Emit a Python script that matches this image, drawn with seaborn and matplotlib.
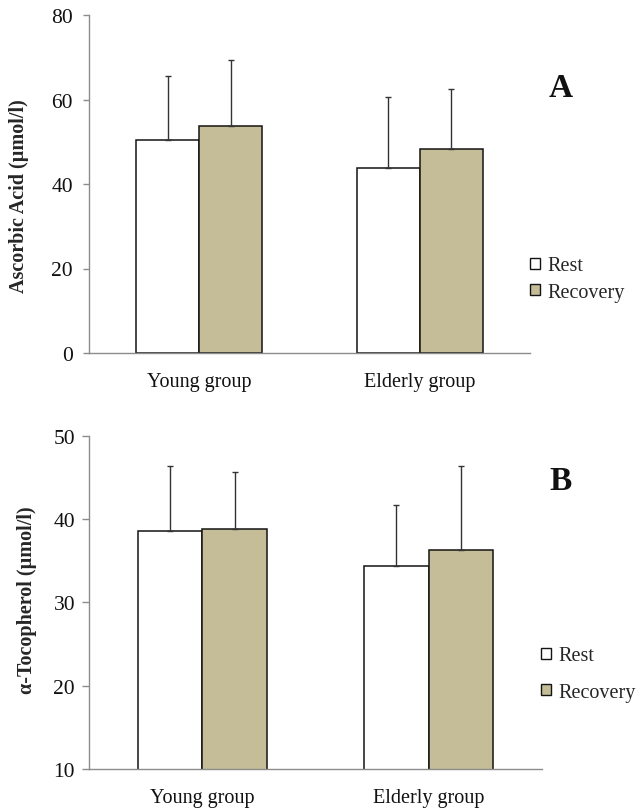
import matplotlib
matplotlib.use("Agg")
import matplotlib.pyplot as plt
from matplotlib.patches import Patch
import seaborn as sns
import pandas as pd

groups = ["Young group", "Elderly group"]
conditions = ["Rest", "Recovery"]

ascorbic_mean = {"Rest": [50.5, 43.8], "Recovery": [53.7, 48.4]}
ascorbic_sd = {"Rest": [15.1, 16.8], "Recovery": [15.6, 14.1]}

tocopherol_mean = {"Rest": [38.6, 34.4], "Recovery": [38.8, 36.3]}
tocopherol_sd = {"Rest": [7.8, 7.3], "Recovery": [6.9, 10.1]}

ascorbic_ticks = [0, 20, 40, 60, 80]
tocopherol_ticks = [10, 20, 30, 40, 50]

colors = {"Rest": "#FFFFFF", "Recovery": "#C4BD97"}
axis_grey = "#8C8C8C"

sns.set_theme(style="white")
plt.rcParams["font.family"] = ["Liberation Serif", "DejaVu Serif"]


def frame(mean, sd):
    rows = []
    for c in conditions:
        for g, m, s in zip(groups, mean[c], sd[c]):
            rows.append({"group": g, "condition": c, "value": m, "sd": s})
    return pd.DataFrame(rows)


def panel(fig, rect, mean, sd, ticks, ylabel, letter, letter_xy, leg_anchor,
          leg_spacing, label_xy, ticklen, tickpad):
    ax = fig.add_axes(rect)
    df = frame(mean, sd)
    sns.barplot(data=df, x="group", y="value", hue="condition",
                order=groups, hue_order=conditions, palette=colors,
                saturation=1, width=2 / 3.5, gap=0, errorbar=None,
                edgecolor="#141414", linewidth=1.1, ax=ax, legend=False)
    # upward-only SD whiskers drawn at each bar's centre
    for patch, (_, row) in zip(ax.patches, df.iterrows()):
        cx = patch.get_x() + patch.get_width() / 2
        top = patch.get_y() + patch.get_height()
        ax.errorbar(cx, top, yerr=[[0], [row["sd"]]], fmt="none",
                    ecolor="#333333", elinewidth=1.0, capsize=2.2,
                    capthick=1.0, zorder=3)
    ax.set_xlim(-0.5, 1.5)
    ax.set_ylim(ticks[0], ticks[-1])
    ax.set_yticks(ticks)
    ax.set_xlabel("")
    ax.set_ylabel(ylabel, fontsize=14.5, fontweight="bold", va="center")
    ax.yaxis.set_label_coords(*label_xy)
    for s in ["top", "right"]:
        ax.spines[s].set_visible(False)
    for s in ["left", "bottom"]:
        ax.spines[s].set_color(axis_grey)
        ax.spines[s].set_linewidth(1.0)
    ax.tick_params(axis="y", left=True, length=ticklen, width=1.0,
                   color=axis_grey, labelsize=15.5, pad=tickpad,
                   labelcolor="#111111")
    ax.tick_params(axis="x", bottom=False, labelsize=14.5, pad=8,
                   labelcolor="#111111")
    handles = [Patch(facecolor=colors[c], edgecolor="#141414", linewidth=1.0)
               for c in conditions]
    fig.legend(handles, conditions, loc="center left",
               bbox_to_anchor=leg_anchor, frameon=False, fontsize=14.5,
               handlelength=0.5, handleheight=0.5, handletextpad=0.35,
               labelspacing=leg_spacing, borderpad=0, borderaxespad=0)
    fig.text(letter_xy[0], letter_xy[1], letter, fontsize=24,
             fontweight="bold", ha="center", va="baseline", color="#111111")
    return ax


fig = plt.figure(figsize=(6.4, 8.12), dpi=100)

panel(fig, [89 / 640, 1 - 354 / 812, 441 / 640, 338 / 812],
      ascorbic_mean, ascorbic_sd, ascorbic_ticks,
      "Ascorbic Acid (\u00b5mol/l)", "A", (561 / 640, 1 - 97 / 812),
      (530 / 640, 1 - 280 / 812), 0.35, (-0.159, 0.466), 4.5, 7)

panel(fig, [89 / 640, 1 - 770 / 812, 453 / 640, 333.3 / 812],
      tocopherol_mean, tocopherol_sd, tocopherol_ticks,
      "\u03b1-Tocopherol (\u00b5mol/l)", "B", (561 / 640, 1 - 490 / 812),
      (541 / 640, 1 - 675 / 812), 0.85, (-0.137, 0.51), 5, 5)

fig.savefig("out.png", dpi=100, facecolor="white")
